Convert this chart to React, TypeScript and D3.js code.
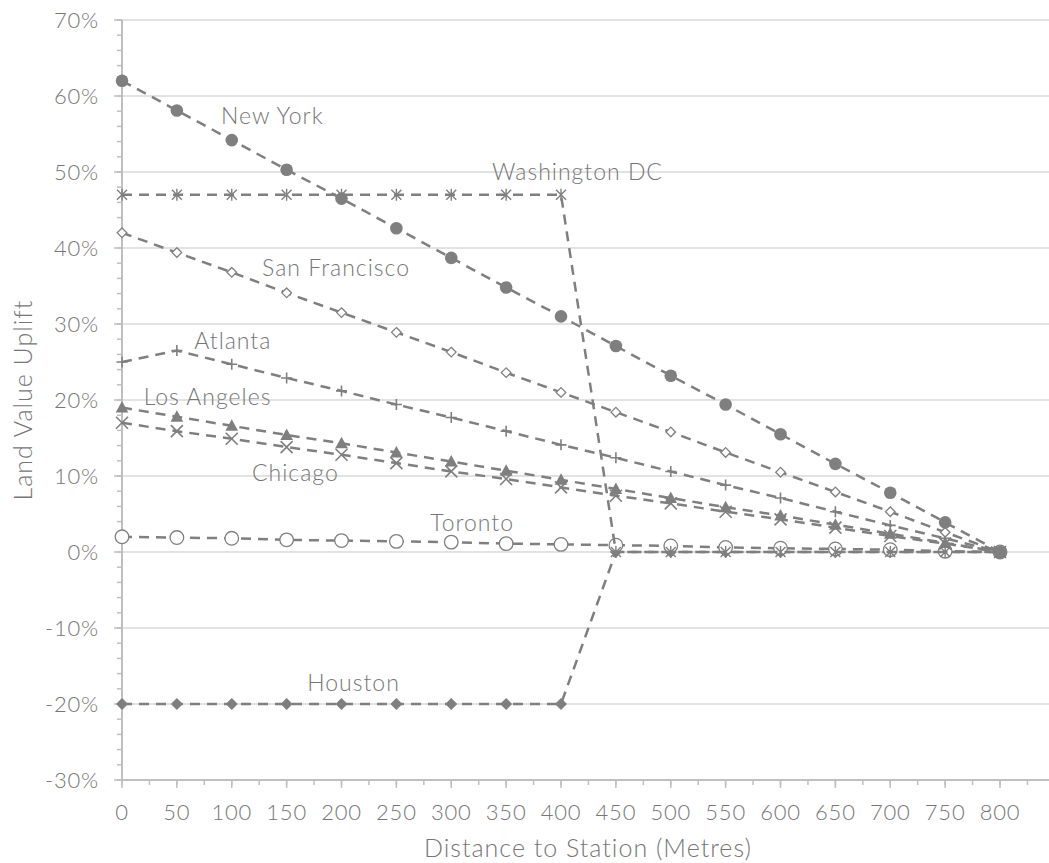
import React from "react";
import * as d3 from "d3";

// distance to station (metres)
const distances = [0, 50, 100, 150, 200, 250, 300, 350, 400, 450, 500, 550, 600, 650, 700, 750, 800];

// land value uplift (%) per city
const newYork = [62, 58.1, 54.2, 50.3, 46.5, 42.6, 38.7, 34.8, 31.0, 27.1, 23.2, 19.4, 15.5, 11.6, 7.8, 3.9, 0];
const washingtonDC = [47, 47, 47, 47, 47, 47, 47, 47, 47, 0, 0, 0, 0, 0, 0, 0, 0];
const sanFrancisco = [42, 39.4, 36.8, 34.1, 31.5, 28.9, 26.3, 23.6, 21.0, 18.4, 15.8, 13.1, 10.5, 7.9, 5.3, 2.6, 0];
const atlanta = [25, 26.5, 24.7, 22.9, 21.2, 19.4, 17.7, 15.9, 14.1, 12.4, 10.6, 8.8, 7.1, 5.3, 3.5, 1.8, 0];
const losAngeles = [19, 17.8, 16.6, 15.4, 14.3, 13.1, 11.9, 10.7, 9.5, 8.3, 7.1, 5.9, 4.8, 3.6, 2.4, 1.2, 0];
const chicago = [17, 15.9, 14.9, 13.8, 12.8, 11.7, 10.6, 9.6, 8.5, 7.4, 6.4, 5.3, 4.3, 3.2, 2.1, 1.1, 0];
const toronto = [2, 1.9, 1.8, 1.6, 1.5, 1.4, 1.3, 1.1, 1.0, 0.9, 0.8, 0.6, 0.5, 0.4, 0.3, 0.1, 0];
const houston = [-20, -20, -20, -20, -20, -20, -20, -20, -20, 0, 0, 0, 0, 0, 0, 0, 0];

const seriesNames = ["Houston", "Toronto", "Chicago", "Los Angeles", "Atlanta", "San Francisco", "Washington DC", "New York"];
const seriesValues = [houston, toronto, chicago, losAngeles, atlanta, sanFrancisco, washingtonDC, newYork];
const seriesMarkers = ["diamondFilled", "circleOpen", "x", "triangle", "plus", "diamondOpen", "star", "circleFilled"];

// where the in-chart city labels sit (data units: metres, %)
const labelNames = ["New York", "Washington DC", "San Francisco", "Atlanta", "Los Angeles", "Chicago", "Toronto", "Houston"];
const labelX = [137, 415, 195, 101, 78, 158, 319, 211];
const labelY = [57.4, 50.1, 37.4, 27.8, 20.4, 10.4, 3.8, -17.2];

const yTicks = [-30, -20, -10, 0, 10, 20, 30, 40, 50, 60, 70];
const xTicks = [0, 50, 100, 150, 200, 250, 300, 350, 400, 450, 500, 550, 600, 650, 700, 750, 800];

const W = 1049;
const H = 863;
const grey = "#7f7f7f";
const textGrey = "#767676";
const font = "Lato, 'Open Sans', sans-serif";

function marker(kind: string) {
  switch (kind) {
    case "circleFilled":
      return <circle r={6.3} fill={grey} />;
    case "circleOpen":
      return <circle r={6.8} fill="white" stroke={grey} strokeWidth={1.3} />;
    case "diamondFilled":
      return <path d="M0,-6L6,0L0,6L-6,0Z" fill={grey} />;
    case "diamondOpen":
      return <path d="M0,-4.8L4.8,0L0,4.8L-4.8,0Z" fill="white" stroke={grey} strokeWidth={1.3} />;
    case "triangle":
      return <path d="M0,-6.5L6.3,5L-6.3,5Z" fill={grey} />;
    case "x":
      return <path d="M-6,-6L6,6M-6,6L6,-6" stroke={grey} strokeWidth={1.6} fill="none" />;
    case "plus":
      return <path d="M-5.5,0H5.5M0,-5.5V5.5" stroke={grey} strokeWidth={1.6} fill="none" />;
    case "star":
      return <path d="M-5,-5L5,5M-5,5L5,-5M0,-6V6" stroke={grey} strokeWidth={1.4} fill="none" />;
    default:
      return null;
  }
}

export default function App() {
  const x = d3.scaleLinear().domain([0, 850]).range([122, 1054.9]);
  const y = d3.scaleLinear().domain([-30, 70]).range([780, 20]);

  const line = d3
    .line<number>()
    .x((_, i) => x(distances[i]))
    .y((d) => y(d));

  const minorY = d3.range(-30, 70.001, 2);
  const minorX = d3.range(0, 850.001, 25);

  const tickText = { fontFamily: font, fontWeight: 300, fontSize: 22, letterSpacing: 0.8, fill: textGrey };
  const titleText = { fontFamily: font, fontWeight: 300, fontSize: 25, letterSpacing: 1, fill: textGrey };
  const labelText = { fontFamily: font, fontWeight: 300, fontSize: 23, letterSpacing: 1, fill: textGrey };

  return (
    <svg width={W} height={H} style={{ position: "absolute", left: 0, top: 0, background: "white" }}>
      {/* gridlines */}
      {yTicks.map((t) => (
        <line key={"g" + t} x1={x(0)} x2={x(850)} y1={y(t)} y2={y(t)} stroke="#d9d9d9" strokeWidth={1.3} />
      ))}

      {/* y axis */}
      <line x1={x(0)} x2={x(0)} y1={y(70)} y2={y(-30)} stroke="#bfbfbf" strokeWidth={2} />
      {minorY.map((t) => (
        <line key={"my" + t} x1={x(0) - 5} x2={x(0)} y1={y(t)} y2={y(t)} stroke="#bfbfbf" strokeWidth={1.5} />
      ))}
      {yTicks.map((t) => (
        <g key={"yt" + t}>
          <line x1={x(0) - 8} x2={x(0)} y1={y(t)} y2={y(t)} stroke="#bfbfbf" strokeWidth={1.5} />
          <text x={99} y={y(t)} dy="0.36em" textAnchor="end" {...tickText}>
            {t + "%"}
          </text>
        </g>
      ))}

      {/* x axis */}
      <line x1={x(0)} x2={x(850)} y1={y(-30)} y2={y(-30)} stroke="#bfbfbf" strokeWidth={2} />
      {minorX.map((t) => (
        <line key={"mx" + t} x1={x(t)} x2={x(t)} y1={y(-30)} y2={y(-30) + 5} stroke="#bfbfbf" strokeWidth={1.5} />
      ))}
      {xTicks.map((t) => (
        <g key={"xt" + t}>
          <line x1={x(t)} x2={x(t)} y1={y(-30)} y2={y(-30) + 8} stroke="#bfbfbf" strokeWidth={1.5} />
          <text x={x(t)} y={820} textAnchor="middle" {...tickText}>
            {t}
          </text>
        </g>
      ))}

      {/* axis titles */}
      <text x={588} y={857} textAnchor="middle" {...titleText}>
        Distance to Station (Metres)
      </text>
      <text transform={`translate(32,400) rotate(-90)`} textAnchor="middle" {...titleText}>
        Land Value Uplift
      </text>

      {/* series */}
      {seriesValues.map((vals, si) => (
        <g key={seriesNames[si]}>
          <path d={line(vals) || ""} fill="none" stroke={grey} strokeWidth={2.5} strokeDasharray="10,7" />
          {vals.map((v, i) => (
            <g key={i} transform={`translate(${x(distances[i])},${y(v)})`}>
              {marker(seriesMarkers[si])}
            </g>
          ))}
        </g>
      ))}

      {/* city labels */}
      {labelNames.map((n, i) => (
        <text key={n} x={x(labelX[i])} y={y(labelY[i])} dy="0.36em" textAnchor="middle" {...labelText}>
          {n}
        </text>
      ))}
    </svg>
  );
}
